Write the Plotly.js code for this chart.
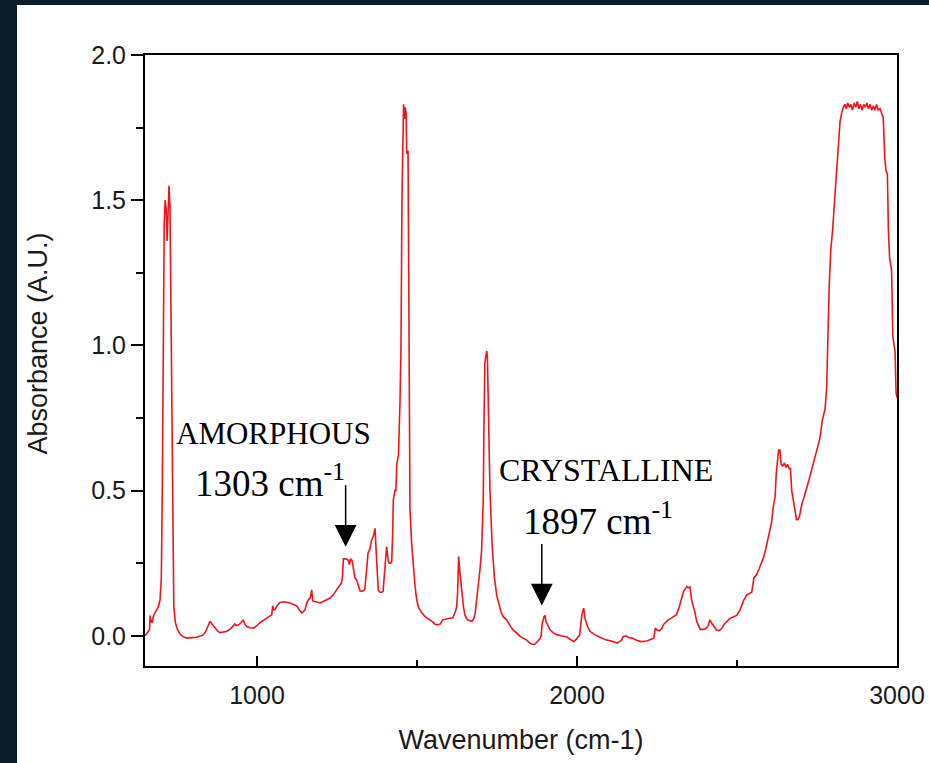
<!DOCTYPE html>
<html>
<head>
<meta charset="utf-8">
<script src="https://cdn.plot.ly/plotly-3.0.1.min.js"></script>
<style>
  html, body { margin: 0; padding: 0; background: #0b1d29; width: 929px; height: 763px; overflow: hidden; }
  #bg { position: absolute; left: 17px; top: 5px; right: 0; bottom: 0; background: #ffffff; }
  #chart { position: absolute; left: 0; top: 0; width: 929px; height: 763px; }
</style>
</head>
<body>
<div id="bg"></div>
<div id="chart"></div>
<script>
// Wavenumber (cm-1)
const wavenumber = [
650,655,660,664,666,669,672,677,686,692,697,701,704,707,710,713,716,719,722,725,728,731,734,737,740,745,752,760,768,780,795,811,825,832,840,847,853,860,869,878,884,895,905,918,931,936,942,950,957,962,968,978,988,998,1009,1020,1030,1040,1046,1049,1052,1056,1064,1072,1085,1095,1103,1114,1124,1132,1140,1145,1150,1155,1160,1166,1171,1174,1180,1190,1197,1207,1218,1228,1238,1249,1256,1264,1267,1270,1278,1285,1289,1292,1297,1302,1306,1312,1317,1322,1327,1332,1337,1343,1347,1353,1358,1363,1369,1372,1374,1379,1384,1390,1394,1400,1405,1410,1413,1418,1421,1424,1426,1431,1434,1437,1442,1447,1450,1453,1456,1458,1461,1463,1466,1468,1472,1475,1478,1483,1488,1494,1499,1504,1509,1515,1525,1533,1541,1549,1556,1563,1572,1580,1590,1603,1612,1619,1624,1627,1630,1634,1637,1641,1645,1650,1658,1666,1672,1678,1682,1686,1692,1697,1702,1707,1709,1712,1715,1718,1720,1723,1728,1735,1742,1749,1757,1763,1770,1780,1791,1800,1811,1822,1832,1843,1853,1860,1869,1877,1884,1888,1891,1897,1900,1903,1910,1916,1926,1937,1950,1962,1970,1978,1990,2000,2004,2008,2011,2015,2018,2021,2025,2033,2041,2055,2072,2090,2113,2125,2134,2140,2144,2152,2160,2172,2186,2200,2218,2230,2236,2240,2245,2249,2257,2265,2270,2278,2285,2293,2301,2310,2317,2322,2327,2333,2338,2343,2348,2353,2358,2364,2369,2374,2385,2395,2402,2410,2415,2420,2428,2436,2444,2452,2460,2468,2478,2488,2499,2510,2520,2530,2546,2553,2561,2569,2577,2583,2588,2593,2598,2603,2608,2613,2619,2623,2626,2630,2634,2638,2643,2648,2653,2658,2663,2667,2671,2676,2681,2686,2690,2695,2702,2710,2718,2725,2733,2741,2749,2754,2759,2767,2775,2780,2784,2788,2793,2799,2805,2810,2814,2817,2822,2827,2832,2837,2842,2846,2851,2856,2861,2866,2871,2876,2881,2886,2891,2896,2901,2906,2911,2916,2921,2926,2931,2936,2941,2947,2952,2957,2962,2966,2970,2973,2977,2980,2983,2987,2990,2994,2997,3000
];
// Absorbance (A.U.)
const absorbance = [
0.00,0.01,0.015,0.02,0.07,0.05,0.045,0.07,0.09,0.10,0.124,0.20,0.50,1.00,1.42,1.50,1.47,1.36,1.46,1.55,1.48,1.15,0.60,0.25,0.10,0.045,0.02,0.005,-0.002,-0.008,-0.006,-0.005,0.0,0.003,0.015,0.035,0.05,0.04,0.027,0.015,0.011,0.012,0.015,0.025,0.041,0.035,0.037,0.045,0.055,0.04,0.032,0.028,0.026,0.033,0.045,0.053,0.062,0.068,0.072,0.103,0.09,0.09,0.105,0.115,0.117,0.115,0.113,0.108,0.103,0.09,0.079,0.083,0.09,0.11,0.124,0.13,0.158,0.12,0.118,0.115,0.113,0.118,0.124,0.13,0.141,0.158,0.17,0.182,0.20,0.265,0.265,0.26,0.245,0.265,0.26,0.22,0.20,0.19,0.17,0.155,0.153,0.155,0.16,0.227,0.285,0.30,0.33,0.34,0.37,0.30,0.26,0.158,0.15,0.15,0.153,0.238,0.307,0.26,0.25,0.25,0.255,0.354,0.468,0.50,0.50,0.595,0.62,0.81,1.00,1.50,1.80,1.83,1.78,1.82,1.80,1.66,1.67,1.20,0.44,0.32,0.238,0.17,0.124,0.10,0.09,0.079,0.066,0.06,0.055,0.048,0.04,0.038,0.04,0.055,0.058,0.06,0.062,0.08,0.10,0.15,0.273,0.22,0.182,0.14,0.10,0.07,0.055,0.052,0.05,0.06,0.079,0.12,0.17,0.23,0.296,0.468,0.70,0.94,0.96,0.98,0.96,0.80,0.50,0.307,0.20,0.14,0.10,0.08,0.065,0.055,0.035,0.02,0.01,-0.002,-0.008,-0.015,-0.025,-0.03,-0.028,-0.02,-0.01,0.0,0.04,0.066,0.07,0.05,0.032,0.02,0.01,0.004,0.0,-0.003,-0.005,-0.012,-0.02,-0.01,-0.002,0.0,0.04,0.072,0.085,0.095,0.06,0.032,0.015,0.004,-0.005,-0.014,-0.02,-0.025,-0.02,-0.014,-0.003,0.0,-0.005,-0.008,-0.015,-0.02,-0.018,-0.014,-0.01,-0.008,0.027,0.02,0.017,0.025,0.038,0.049,0.055,0.06,0.065,0.072,0.09,0.113,0.135,0.153,0.16,0.17,0.165,0.168,0.124,0.10,0.079,0.05,0.022,0.022,0.024,0.035,0.055,0.045,0.032,0.02,0.018,0.025,0.04,0.05,0.06,0.065,0.07,0.09,0.12,0.14,0.15,0.20,0.21,0.23,0.25,0.27,0.29,0.316,0.34,0.36,0.39,0.44,0.48,0.563,0.60,0.64,0.64,0.59,0.585,0.595,0.58,0.59,0.575,0.576,0.50,0.47,0.43,0.40,0.40,0.41,0.45,0.485,0.51,0.537,0.57,0.60,0.64,0.66,0.68,0.745,0.78,0.85,1.05,1.20,1.33,1.40,1.50,1.58,1.65,1.72,1.77,1.80,1.82,1.83,1.815,1.835,1.82,1.83,1.81,1.835,1.82,1.84,1.815,1.83,1.81,1.83,1.82,1.835,1.815,1.83,1.81,1.825,1.81,1.83,1.81,1.815,1.80,1.784,1.64,1.60,1.59,1.40,1.30,1.27,1.26,1.03,1.00,0.98,0.84,0.82,0.73
];
// Annotation labels
const labelTexts = ["AMORPHOUS", "1303 cm<sup>-1</sup>", "CRYSTALLINE", "1897 cm<sup>-1</sup>"];
const labelX = [1052, 1040, 2091, 2066];
const labelY = [0.695, 0.535, 0.571, 0.403];
const labelSize = [31, 37, 32, 37];
const arrowTipX = [1277, 1890];
const arrowTipY = [0.307, 0.104];

const serif = "Liberation Serif, Times New Roman, serif";
const sans = "Liberation Sans, Arial, sans-serif";

const annotations = [];
labelTexts.forEach((t, i) => {
  annotations.push({
    x: labelX[i], y: labelY[i], xref: 'x', yref: 'y', text: t, showarrow: false,
    xanchor: 'center', yanchor: 'middle',
    font: {family: serif, size: labelSize[i], color: '#000000'}
  });
});
arrowTipX.forEach((ax, i) => {
  annotations.push({
    x: ax, y: arrowTipY[i], xref: 'x', yref: 'y', text: '', showarrow: true,
    ax: 0, ay: -63, arrowhead: 2, arrowsize: 2.9, arrowwidth: 1.5, arrowcolor: '#000000'
  });
});
// y-axis title placed as rotated annotation
annotations.push({
  x: -0.142, y: 0.528, xref: 'paper', yref: 'paper', text: 'Absorbance (A.U.)', showarrow: false,
  textangle: -90, xanchor: 'center', yanchor: 'middle',
  font: {family: sans, size: 27, color: '#1a1a1a'}
});

const data = [{
  x: wavenumber, y: absorbance, type: 'scatter', mode: 'lines',
  line: {color: 'rgb(236,22,28)', width: 1.6}, hoverinfo: 'skip', cliponaxis: false
}];

const layout = {
  width: 929, height: 763,
  paper_bgcolor: 'rgba(0,0,0,0)', plot_bgcolor: '#ffffff',
  margin: {l: 145, r: 32, t: 55, b: 97},
  showlegend: false,
  font: {family: sans, color: '#1a1a1a'},
  xaxis: {
    range: [650, 3000], tick0: 0, dtick: 1000, ticks: 'inside', ticklen: 10, tickwidth: 2,
    tickcolor: '#000', showline: true, linewidth: 2, linecolor: '#000', mirror: true,
    showgrid: false, zeroline: false, tickfont: {family: sans, size: 25, color: '#1a1a1a'},
    ticklabelstandoff: 6,
    minor: {dtick: 500, tick0: 0, ticks: 'inside', ticklen: 6, tickwidth: 2, tickcolor: '#000', showgrid: false},
    title: {text: 'Wavenumber (cm-1)', font: {family: sans, size: 27, color: '#1a1a1a'}, standoff: 22}
  },
  yaxis: {
    range: [-0.104, 2.0], tick0: 0, dtick: 0.5, tickformat: '.1f', ticks: 'outside', ticklen: 12, tickwidth: 2,
    tickcolor: '#000', showline: true, linewidth: 2, linecolor: '#000', mirror: true,
    showgrid: false, zeroline: false, tickfont: {family: sans, size: 25, color: '#1a1a1a'},
    ticklabelstandoff: 0,
    minor: {dtick: 0.25, tick0: 0, ticks: 'outside', ticklen: 7, tickwidth: 2, tickcolor: '#000', showgrid: false}
  },
  annotations: annotations
};

Plotly.newPlot('chart', data, layout, {staticPlot: true, displayModeBar: false});
</script>
</body>
</html>
